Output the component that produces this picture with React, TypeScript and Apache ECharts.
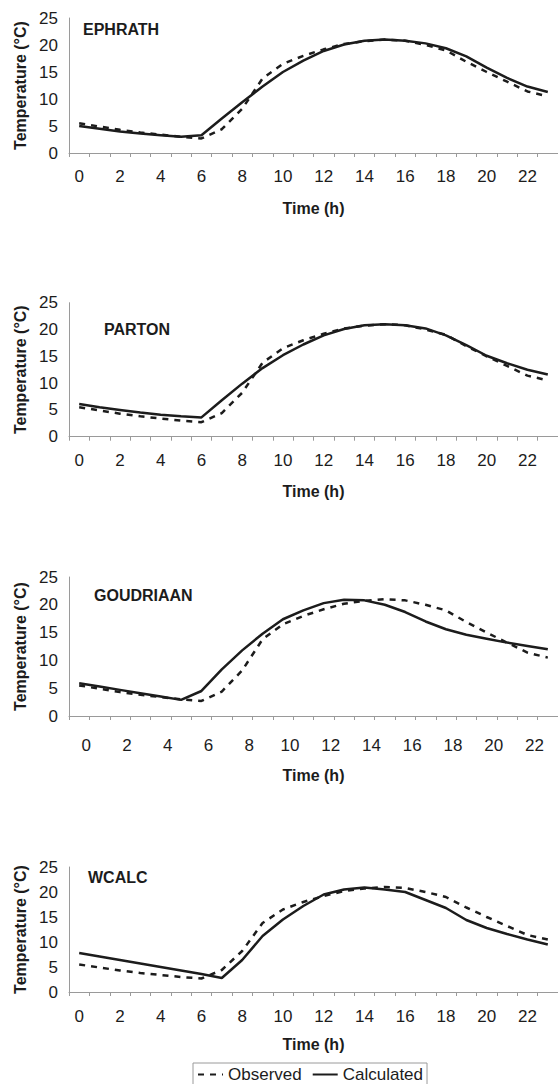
import React, { useEffect, useRef } from "react";
import * as echarts from "echarts";

// ---- data ----
const hours = ["0","1","2","3","4","5","6","7","8","9","10","11","12","13","14","15","16","17","18","19","20","21","22","23"];
const yTicks = [0, 5, 10, 15, 20, 25];
const observed = [5.5, 4.9, 4.3, 3.8, 3.4, 3.0, 2.7, 4.4, 8.2, 13.8, 16.5, 18.0, 19.2, 20.2, 20.7, 21.0, 20.8, 20.0, 19.0, 16.9, 15.0, 13.2, 11.4, 10.5];
const ephrath = [5.0, 4.5, 4.0, 3.6, 3.3, 3.0, 3.3, 6.4, 9.4, 12.3, 15.0, 17.1, 18.9, 20.1, 20.8, 21.0, 20.8, 20.3, 19.4, 17.9, 15.8, 13.9, 12.3, 11.3];
const parton = [6.1, 5.5, 5.0, 4.5, 4.1, 3.8, 3.6, 6.8, 9.9, 12.8, 15.2, 17.2, 18.9, 20.1, 20.8, 21.0, 20.8, 20.2, 18.9, 17.1, 15.1, 13.7, 12.5, 11.6];
const goudriaan = [5.9, 5.3, 4.7, 4.1, 3.5, 2.9, 4.5, 8.4, 11.8, 14.8, 17.4, 19.0, 20.3, 20.9, 20.8, 20.0, 18.7, 17.0, 15.6, 14.6, 13.9, 13.2, 12.6, 12.0];
const wcalc = [7.8, 7.1, 6.4, 5.7, 5.0, 4.3, 3.6, 2.8, 6.4, 11.2, 14.5, 17.2, 19.5, 20.5, 20.9, 20.5, 20.0, 18.4, 16.8, 14.4, 12.8, 11.6, 10.5, 9.5];
const modelNames = ["EPHRATH", "PARTON", "GOUDRIAAN", "WCALC"];
const modelSeries = [ephrath, parton, goudriaan, wcalc];
const seriesNames = ["Observed", "Calculated"];
const xTitle = "Time (h)";
const yTitle = "Temperature (°C)";

// ---- layout (styles only) ----
const layout = [
  { top: 18, height: 135, labelMargin: 16, nameGap: 47, shift: 0, tx: 83, ty: 29 },
  { top: 302.7, height: 134, labelMargin: 16, nameGap: 47, shift: 0, tx: 104, ty: 329 },
  { top: 577, height: 139, labelMargin: 22, nameGap: 51, shift: 14, tx: 94, ty: 595 },
  { top: 867, height: 125, labelMargin: 17, nameGap: 44, shift: 0, tx: 88, ty: 877 },
];

const FONT = "'Liberation Sans', Arial, Helvetica, sans-serif";
const INK = "#1c1c1c";
const AXIS = "#9a9a9a";

export default function App() {
  const ref = useRef<HTMLDivElement>(null);
  useEffect(() => {
    if (!ref.current) return;
    const chart = echarts.init(ref.current, undefined, { renderer: "svg" });
    const grids: any[] = [];
    const xAxes: any[] = [];
    const yAxes: any[] = [];
    const series: any[] = [];
    const titles: any[] = [];
    layout.forEach((L, i) => {
      grids.push({ left: 69, width: 491, top: L.top, height: L.height });
      xAxes.push({
        gridIndex: i,
        type: "category",
        data: hours,
        boundaryGap: true,
        name: xTitle,
        nameLocation: "middle",
        nameGap: L.nameGap,
        nameTextStyle: { fontFamily: FONT, fontWeight: "bold", fontSize: 16, color: INK },
        axisLine: { lineStyle: { color: AXIS, width: 1 } },
        axisTick: { show: true, interval: 0, length: 4, lineStyle: { color: AXIS } },
        axisLabel: {
          interval: 1,
          margin: L.labelMargin - 1,
          fontFamily: FONT,
          fontSize: 17,
          color: INK,
          padding: [0, 0, 0, L.shift],
        },
        splitLine: { show: false },
      });
      yAxes.push({
        gridIndex: i,
        type: "value",
        min: yTicks[0],
        max: yTicks[yTicks.length - 1],
        interval: 5,
        name: yTitle,
        nameLocation: "middle",
        nameGap: 41,
        nameTextStyle: { fontFamily: FONT, fontWeight: "bold", fontSize: 16, color: INK },
        axisLine: { show: true, lineStyle: { color: AXIS, width: 1 } },
        axisTick: { show: false },
        axisLabel: { margin: 11, fontFamily: FONT, fontSize: 17, color: INK },
        splitLine: { show: false },
      });
      series.push({
        name: seriesNames[0],
        type: "line",
        xAxisIndex: i,
        yAxisIndex: i,
        data: observed,
        symbol: "none",
        lineStyle: { color: INK, width: 2.5, type: [6, 6] },
        itemStyle: { color: INK },
      });
      series.push({
        name: seriesNames[1],
        type: "line",
        xAxisIndex: i,
        yAxisIndex: i,
        data: modelSeries[i],
        symbol: "none",
        lineStyle: { color: INK, width: 2.5, type: "solid" },
        itemStyle: { color: INK },
      });
      titles.push({
        text: modelNames[i],
        left: L.tx,
        top: L.ty - 8,
        padding: 0,
        textStyle: { fontFamily: FONT, fontWeight: "bold", fontSize: 16, color: INK },
      });
    });
    chart.setOption({
      animation: false,
      backgroundColor: "#ffffff",
      title: titles,
      grid: grids,
      xAxis: xAxes,
      yAxis: yAxes,
      series,
      legend: {
        data: seriesNames,
        left: 193,
        top: 1063,
        orient: "horizontal",
        itemWidth: 25,
        itemHeight: 14,
        itemGap: 10,
        padding: [3, 4, 8, 4],
        borderColor: AXIS,
        borderWidth: 1,
        itemStyle: { opacity: 0 },
        textStyle: { fontFamily: FONT, fontSize: 17, color: INK },
      },
    });
    return () => chart.dispose();
  }, []);
  return (
    <div
      ref={ref}
      style={{ position: "absolute", left: 0, top: 0, width: 558, height: 1084, background: "#fff" }}
    />
  );
}
